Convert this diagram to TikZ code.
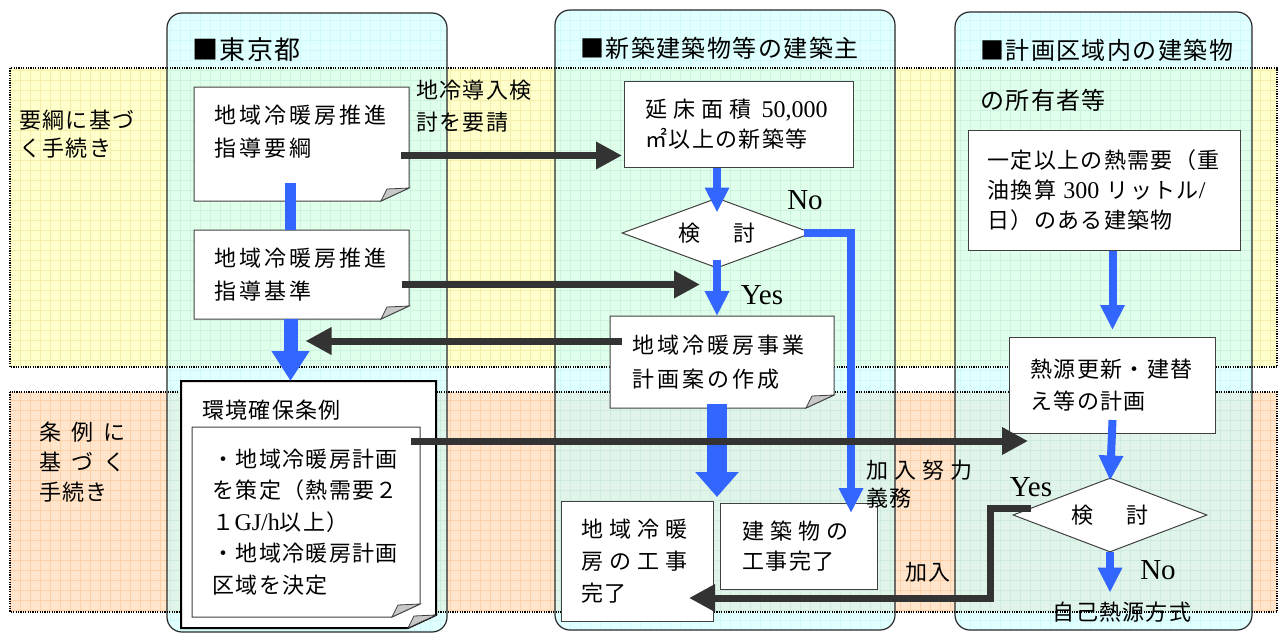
\documentclass[tikz,border=0pt]{standalone}
\usepackage{fontspec}
\setmainfont{Liberation Serif}
\newfontfamily\jp{Noto Sans CJK JP}[LetterSpace=6]
\newfontfamily\jpw{Noto Sans CJK JP}[LetterSpace=14]
\usetikzlibrary{arrows.meta, shapes.geometric, positioning}

\definecolor{bandyel}{RGB}{255,255,204}
\definecolor{gridyel}{RGB}{245,238,170}
\definecolor{bandora}{RGB}{255,229,204}
\definecolor{gridora}{RGB}{255,208,165}
\definecolor{colcyan}{RGB}{204,255,255}
\definecolor{gridcyan}{RGB}{175,235,235}
\definecolor{colline}{RGB}{40,40,40}
\definecolor{boxline}{RGB}{64,64,64}
\definecolor{foldgray}{RGB}{200,200,200}
\definecolor{arrblue}{RGB}{51,102,255}
\definecolor{arrgray}{RGB}{51,51,51}

\pgfdeclarelayer{bg}
\pgfdeclarelayer{mid}
\pgfsetlayers{bg,mid,main}

\newcommand{\lat}[1]{{\rmfamily\fontsize{24}{30}\selectfont #1}}

\tikzset{
  box/.style={draw=boxline, line width=1pt, fill=white, inner xsep=20pt, inner ysep=0pt,
    align=left, anchor=north west, font=\jp\fontsize{22}{32}\selectfont},
  docbox/.style={box, draw=none, fill=none},
  kento/.style={diamond, draw=boxline, line width=1pt, fill=white, inner sep=0pt,
    font=\jp\fontsize{22}{32}\selectfont},
  lbl/.style={align=left, inner sep=0pt, anchor=west, font=\jp\fontsize{22}{30}\selectfont},
  head/.style={inner sep=0pt, anchor=west, font=\jp\fontsize{24}{30}\selectfont},
  yesno/.style={inner sep=0pt, font=\rmfamily\fontsize{29}{29}\selectfont},
  bluearr/.style={draw=arrblue, line width=8pt, -{Triangle[length=25pt,width=23pt]}},
  grayarr/.style={draw=arrgray, line width=7pt, -{Triangle[length=26pt,width=26pt]}},
  docline/.style={draw=boxline, line width=1pt, fill=white},
  foldline/.style={draw=boxline, line width=0.8pt, fill=foldgray},
  band/.style={dash pattern=on 1.2pt off 1.2pt, line width=1.2pt},
  column/.style={rounded corners=15pt}
}

% box with a folded corner, drawn under the text of node #2
\newcommand{\docshape}[3][]{%
  \begin{pgfonlayer}{mid}
    \path ([yshift=-#3pt]#2.south east) coordinate (dse) ([yshift=-#3pt]#2.south west) coordinate (dsw);
    \draw[docline,#1] (#2.north west) -- (#2.north east) -- ([yshift=13pt]dse) -- ([xshift=-28pt]dse) -- (dsw) -- cycle;
    \draw[foldline] ([yshift=13pt]dse) -- ([xshift=-28pt]dse) -- ([xshift=-22pt,yshift=12pt]dse) -- cycle;
  \end{pgfonlayer}}

\begin{document}
\begin{tikzpicture}[x=1pt, y=-1pt, >=latex]
\useasboundingbox (0,0) rectangle (1282,635);

\begin{pgfonlayer}{bg}
  \fill[bandyel] (10,68) rectangle (1277,367);
  \draw[gridyel, line width=0.5pt, step=10pt] (10,367) grid (1277,68);
  \fill[bandora] (10,392) rectangle (1277,612);
  \draw[gridora, line width=0.5pt, step=10pt] (10,612) grid (1277,392);
  \foreach \xa/\ya/\xb/\yb in {167/13/447/632, 555/10/895/630, 955/12/1252/630}{
    \fill[colcyan, fill opacity=0.6, column] (\xa,\ya) rectangle (\xb,\yb);
    \begin{scope}
      \clip[column] (\xa,\ya) rectangle (\xb,\yb);
      \draw[gridcyan, line width=0.4pt, step=10pt, opacity=0.35] (\xa,\yb) grid (\xb,\ya);
    \end{scope}
    \draw[colline, line width=1.2pt, column] (\xa,\ya) rectangle (\xb,\yb);
  }
  \draw[band] (10,68) rectangle (1277,367);
  \draw[band] (10,392) rectangle (1277,612);
\end{pgfonlayer}

\node[head, font=\jp\fontsize{26}{30}\selectfont] (tokyo) at (192,50) {■東京都};
\node[head] (kenchikunushi) at (580,48) {■新築建築物等の建築主};
\node[head] (shoyusha) at (980,50) {■計画区域内の建築物};
\node[head] (shoyusha2) at (980,100) {の所有者等};

\node[lbl, font=\jp\fontsize{22}{28}\selectfont] (yokolbl) at (19,134) {要綱に基づ\\く手続き};
\node[lbl] (joreilbl) at (39,462) {条\hspace{10pt}例\hspace{10pt}に\\基\hspace{10pt}づ\hspace{10pt}く\\手続き};

% 東京都
\node[docbox, font=\jpw\fontsize{22}{33}\selectfont, text width=174pt, minimum height=88pt] (yoko) at (194,87) {地域冷暖房推進\\指導要綱};
\docshape{yoko}{25}
\node[docbox, font=\jpw\fontsize{22}{33}\selectfont, text width=174pt, minimum height=88pt] (kijun) at (194,230) {地域冷暖房推進\\指導基準};
\docshape{kijun}{0}
\node[docbox, minimum width=254pt, minimum height=246pt, inner sep=0pt] (jorei) at (181,381) {};
\docshape[line width=2pt, draw=black]{jorei}{0}
\node[lbl] (joreittl) at (202,410) {環境確保条例};
\node[docbox, text width=187pt, minimum height=189pt, font=\jp\fontsize{22}{31.5}\selectfont] (keikaku) at (192,427)
  {・地域冷暖房計画\\を策定（熱需要２\\１\lat{GJ/h}以上）\\・地域冷暖房計画\\区域を決定};
\docshape{keikaku}{0}

% 建築主
\node[box, inner xsep=21pt, text width=187pt, minimum height=86pt, font=\jp\fontsize{22}{30}\selectfont] (nobe) at (624,81)
  {延\hspace{6pt}床\hspace{6pt}面\hspace{6pt}積\hspace{10pt}\lat{50,000}\\㎡以上の新築等};
\node[kento, minimum width=190pt, minimum height=70pt, aspect=2.7] (kento1) at (717,233) {検\hspace{33pt}討};
\node[docbox, inner xsep=22pt, text width=179pt, minimum height=91pt, font=\jpw\fontsize{22}{34}\selectfont] (jigyo) at (610,316) {地域冷暖房事業\\計画案の作成};
\docshape{jigyo}{0}
\node[box, text width=112pt, minimum height=120pt] (danbo) at (561,501) {地\hspace{6pt}域\hspace{6pt}冷\hspace{6pt}暖\\房\hspace{6pt}の\hspace{6pt}工\hspace{6pt}事\\完了};
\node[box, inner xsep=22pt, text width=113pt, minimum height=86pt, font=\jp\fontsize{22}{30}\selectfont] (tatemono) at (720,503) {建\hspace{6pt}築\hspace{6pt}物\hspace{6pt}の\\工事完了};

% 所有者等
\node[box, inner xsep=19pt, text width=234pt, minimum height=120pt, font=\jp\fontsize{22}{30}\selectfont] (netsu) at (968,130)
  {一定以上の熱需要（重\\油換算 \lat{300} リットル\lat{/}\\日）のある建築物};
\node[box, inner xsep=21pt, text width=164pt, minimum height=96pt] (kousin) at (1009,337) {熱源更新・建替\\え等の計画};
\node[kento, minimum width=194pt, minimum height=74pt, aspect=2.6] (kento2) at (1110,515) {検\hspace{33pt}討};
\node[inner sep=2pt, font=\jp\fontsize{22}{30}\selectfont] (jiko) at (1122,612) {自己熱源方式};

\node[lbl, font=\jp\fontsize{22}{32}\selectfont] (yosei) at (416,106) {地冷導入検\\討を要請};
\node[lbl, font=\jp\fontsize{22}{28}\selectfont] (doryoku) at (866,484) {加\hspace{6pt}入\hspace{6pt}努\hspace{6pt}力\\義務};
\node[lbl] (kanyu) at (905,572) {加入};
\node[yesno] (no1) at (805,200) {No};
\node[yesno] (yes1) at (762,295) {Yes};
\node[yesno] (yes2) at (1031,487) {Yes};
\node[yesno] (no2) at (1158,570) {No};

% blue
\coordinate (nodown) at (851,513);
\draw[bluearr, line width=11pt, -] ([xshift=-11pt,yshift=-7pt]yoko.south) -- ([xshift=-11pt]kijun.north);
\draw[bluearr, line width=14pt, -{Triangle[length=30pt,width=36pt]}] ([xshift=-11pt]kijun.south) -- ([xshift=-11pt]kijun.south |- jorei.north);
\draw[bluearr] (kento1.north |- nobe.south) -- ([yshift=-15pt]kento1.north);
\draw[bluearr] ([yshift=9pt]kento1.south) -- (kento1.south |- jigyo.north);
\draw[bluearr] ([xshift=-9pt]kento1.east) -| (nodown);
\draw[bluearr, line width=20pt, -{Triangle[length=25pt,width=42pt]}] ([yshift=4pt]kento1.south |- jigyo.south) -- ([yshift=4pt]kento1.south |- danbo.north);
\draw[bluearr] (kousin.north |- netsu.south) -- ([yshift=7pt]kousin.north);
\draw[bluearr] ([yshift=14pt]kousin.south) -- ([yshift=-3pt]kento2.north);
\draw[bluearr] ([yshift=1pt]kento2.south) -- ([yshift=7pt]kento2.south |- jiko.north);

% gray
\coordinate (kanyu1) at (990,598);
\draw[grayarr] ([xshift=-8pt,yshift=-24pt]yoko.east) coordinate (yosei1) -- ([xshift=-2pt]yosei1 -| nobe.west);
\draw[grayarr] ([xshift=-7pt,yshift=-10pt]kijun.east) coordinate (kijun1) -- ([xshift=-17pt]kijun1 -| kento1.south);
\draw[grayarr] ([xshift=12pt,yshift=21pt]jigyo.west) coordinate (jigyo1) -- ([xshift=4pt]jigyo1 -| kijun.south);
\draw[grayarr] ([xshift=-9pt,yshift=81pt]keikaku.east) coordinate (keikaku1) -- ([xshift=19pt]keikaku1 -| kousin.west);
\draw[grayarr] (kento2.175) -| (kanyu1) -- ([xshift=-25pt]kanyu1 -| danbo.east);

\end{tikzpicture}
\end{document}
